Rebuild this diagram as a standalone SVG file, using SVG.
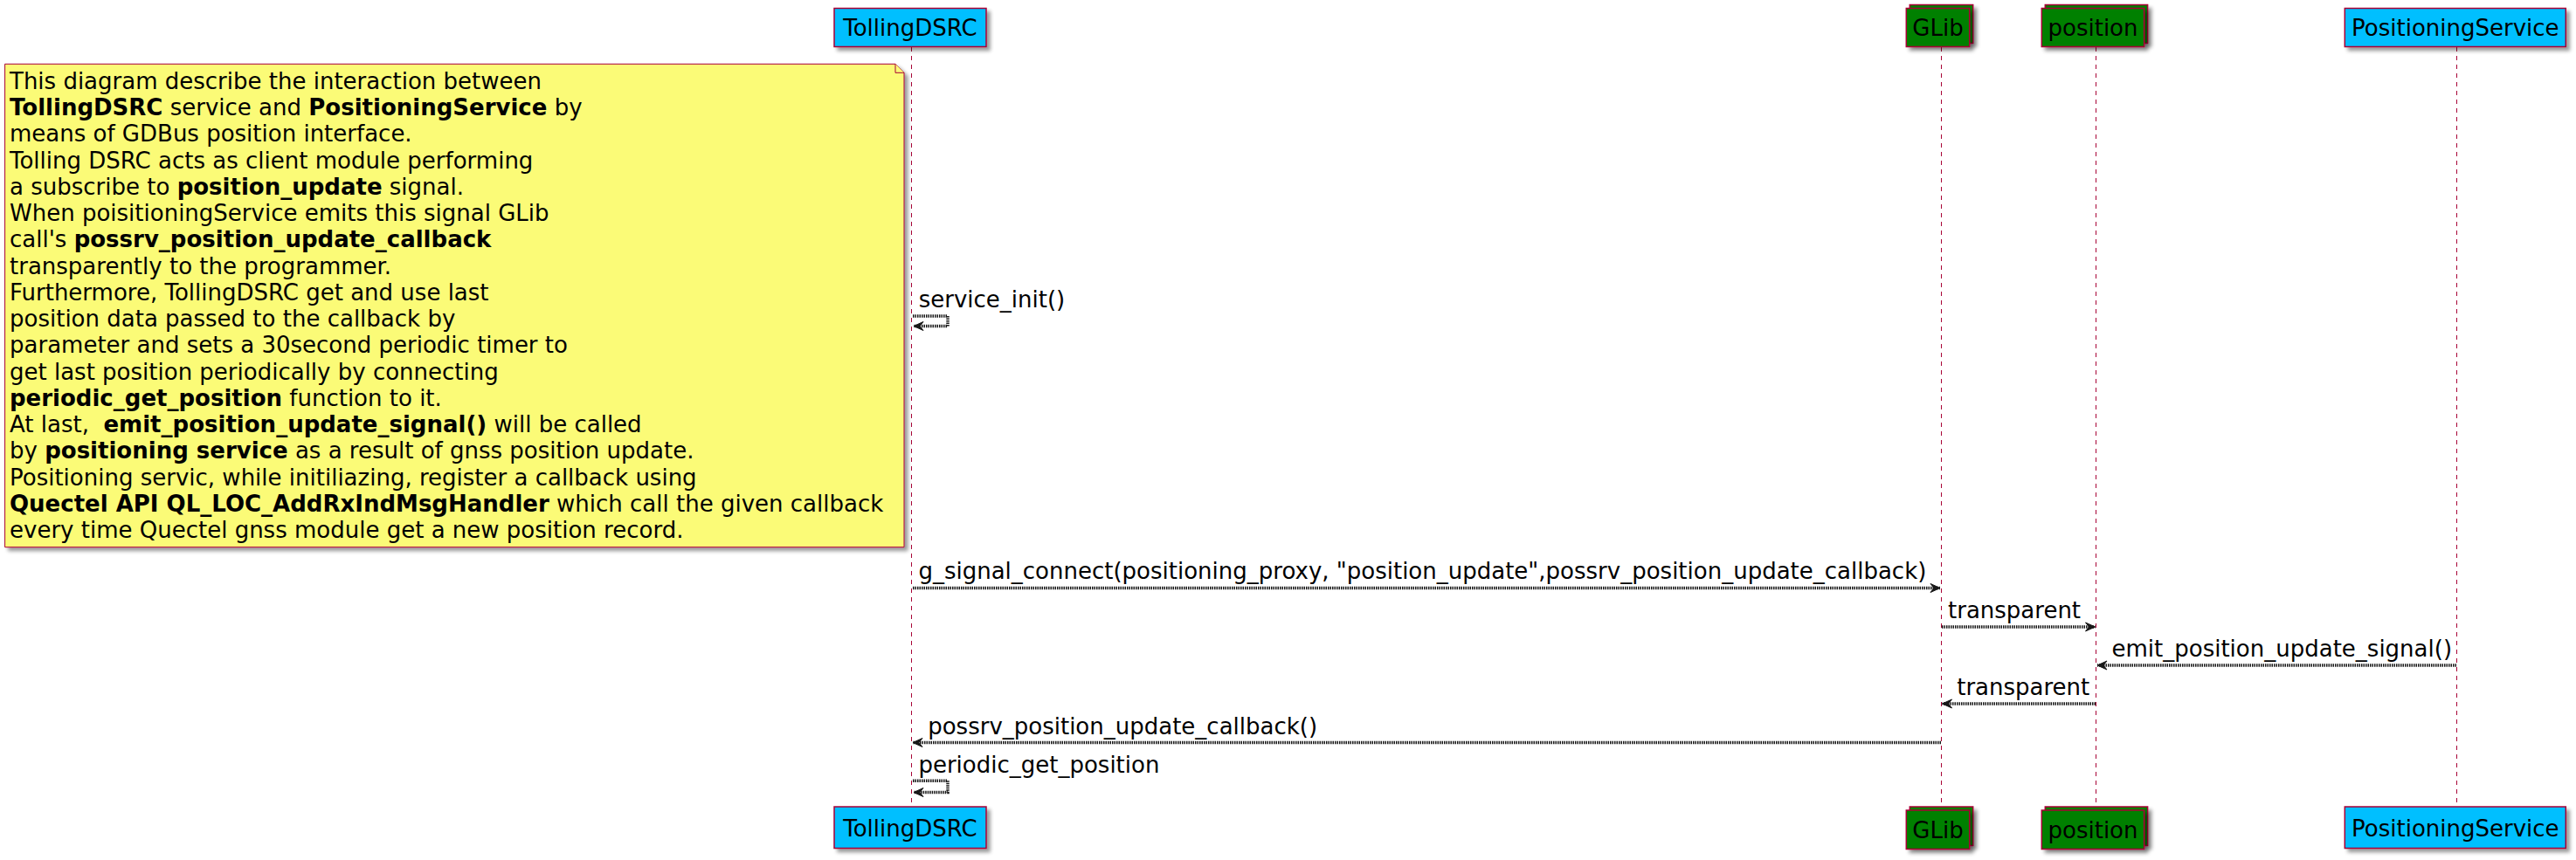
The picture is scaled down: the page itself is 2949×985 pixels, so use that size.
<svg xmlns="http://www.w3.org/2000/svg" width="2949" height="985" viewBox="0 0 2949 985">
<style>
text{font-family:"DejaVu Sans","Liberation Sans",sans-serif;font-size:26px;fill:#000}
.b{font-weight:bold}
.pc{text-anchor:middle}
.blue{fill:#00BFFF;stroke:#A80036;stroke-width:1.5}
.green{fill:#008000;stroke:#A80036;stroke-width:1.5}
.life{stroke:#A80036;stroke-width:1;stroke-dasharray:5,5;fill:none}
.msg{stroke:#181818;stroke-width:3.5;stroke-dasharray:1.5,1;fill:none}
.note{fill:#FBFB77;stroke:#A80036;stroke-width:1}
</style>
<defs>
<filter id="sh" x="-10%" y="-10%" width="130%" height="150%">
<feGaussianBlur in="SourceAlpha" stdDeviation="2" result="b"/>
<feOffset dx="4" dy="4" in="b" result="o"/>
<feComponentTransfer in="o" result="s"><feFuncA type="linear" slope="0.4"/></feComponentTransfer>
<feMerge><feMergeNode in="s"/><feMergeNode in="SourceGraphic"/></feMerge>
</filter>
<marker id="ah" viewBox="-12 -6 13 12" refX="0" refY="0" markerWidth="13" markerHeight="12" markerUnits="userSpaceOnUse" orient="auto">
<path d="M0,0 L-11,-5 L-7,0 L-11,5 Z" fill="#181818" stroke="#181818" stroke-width="1"/>
</marker>
</defs>
<rect width="2949" height="985" fill="#FFFFFF"/>

<g id="lifelines">
<line class="life" x1="1043.5" y1="54" x2="1043.5" y2="924"/>
<line class="life" x1="2222.5" y1="54" x2="2222.5" y2="924"/>
<line class="life" x1="2399.5" y1="54" x2="2399.5" y2="924"/>
<line class="life" x1="2812.5" y1="54" x2="2812.5" y2="924"/>
</g>

<g id="TollingDSRC">
<rect class="blue" x="955" y="9.5" width="174" height="44" filter="url(#sh)"/>
<text class="pc" x="1042" y="40.5">TollingDSRC</text>
<rect class="blue" x="955" y="924" width="174" height="47.5" filter="url(#sh)"/>
<text class="pc" x="1042" y="957.5">TollingDSRC</text>
</g>

<g id="GLib">
<rect class="green" x="2186.3" y="5.5" width="72.4" height="44" filter="url(#sh)"/>
<rect class="green" x="2182.3" y="9.5" width="72.4" height="44" filter="url(#sh)"/>
<text class="pc" x="2218.5" y="40.5">GLib</text>
<rect class="green" x="2186.3" y="924" width="72.4" height="44.5" filter="url(#sh)"/>
<rect class="green" x="2182.3" y="928" width="72.4" height="44.5" filter="url(#sh)"/>
<text class="pc" x="2218.5" y="960">GLib</text>
</g>

<g id="position">
<rect class="green" x="2341.3" y="5.5" width="117.3" height="44" filter="url(#sh)"/>
<rect class="green" x="2337.3" y="9.5" width="117.3" height="44" filter="url(#sh)"/>
<text class="pc" x="2396" y="40.5">position</text>
<rect class="green" x="2341.3" y="924" width="117.3" height="44.5" filter="url(#sh)"/>
<rect class="green" x="2337.3" y="928" width="117.3" height="44.5" filter="url(#sh)"/>
<text class="pc" x="2396" y="960">position</text>
</g>

<g id="PositioningService">
<rect class="blue" x="2684.3" y="9.5" width="253" height="44" filter="url(#sh)"/>
<text class="pc" x="2810.8" y="40.5">PositioningService</text>
<rect class="blue" x="2684.3" y="924" width="253" height="47.5" filter="url(#sh)"/>
<text class="pc" x="2810.8" y="957.5">PositioningService</text>
</g>

<g id="note">
<path class="note" d="M5.6,73.3 L1025,73.3 L1035,83.3 L1035,626.7 L5.6,626.7 Z" filter="url(#sh)"/>
<path class="note" d="M1025,73.3 L1025,83.3 L1035,83.3"/>
<text x="11" y="101.7" xml:space="preserve"><tspan x="11" y="101.7">This diagram describe the interaction between</tspan><tspan x="11" y="132"><tspan class="b">TollingDSRC</tspan> service and <tspan class="b">PositioningService</tspan> by</tspan><tspan x="11" y="162.2">means of GDBus position interface.</tspan><tspan x="11" y="192.5">Tolling DSRC acts as client module performing</tspan><tspan x="11" y="222.7">a subscribe to <tspan class="b">position_update</tspan> signal.</tspan><tspan x="11" y="253">When poisitioningService emits this signal GLib</tspan><tspan x="11" y="283.3">call's <tspan class="b">possrv_position_update_callback</tspan></tspan><tspan x="11" y="313.5">transparently to the programmer.</tspan><tspan x="11" y="343.8">Furthermore, TollingDSRC get and use last</tspan><tspan x="11" y="374">position data passed to the callback by</tspan><tspan x="11" y="404.3">parameter and sets a 30second periodic timer to</tspan><tspan x="11" y="434.6">get last position periodically by connecting</tspan><tspan x="11" y="464.8"><tspan class="b">periodic_get_position</tspan> function to it.</tspan><tspan x="11" y="495.1">At last,  <tspan class="b">emit_position_update_signal()</tspan> will be called</tspan><tspan x="11" y="525.3">by <tspan class="b">positioning service</tspan> as a result of gnss position update.</tspan><tspan x="11" y="555.6">Positioning servic, while initiliazing, register a callback using</tspan><tspan x="11" y="585.9"><tspan class="b">Quectel API QL_LOC_AddRxIndMsgHandler</tspan> which call the given callback</tspan><tspan x="11" y="616.1">every time Quectel gnss module get a new position record.</tspan></text>
</g>

<g id="connectors">
<path class="msg" d="M1045,362 H1085 V373.5 H1046" marker-end="url(#ah)"/>
<text x="1051.7" y="351.7">service_init()</text>
<line class="msg" x1="1045" y1="673.5" x2="2221" y2="673.5" marker-end="url(#ah)"/>
<text x="1051.4" y="663.3">g_signal_connect(positioning_proxy, "position_update",possrv_position_update_callback)</text>
<line class="msg" x1="2223" y1="718" x2="2398.5" y2="718" marker-end="url(#ah)"/>
<text x="2230" y="707.8">transparent</text>
<line class="msg" x1="2812" y1="762" x2="2401" y2="762" marker-end="url(#ah)"/>
<text x="2417.5" y="751.8">emit_position_update_signal()</text>
<line class="msg" x1="2399" y1="806" x2="2223.5" y2="806" marker-end="url(#ah)"/>
<text x="2240.2" y="796">transparent</text>
<line class="msg" x1="2222" y1="850.5" x2="1045" y2="850.5" marker-end="url(#ah)"/>
<text x="1062.2" y="840.5">possrv_position_update_callback()</text>
<path class="msg" d="M1045,894.3 H1085 V907.5 H1046" marker-end="url(#ah)"/>
<text x="1051.4" y="884.5">periodic_get_position</text>
</g>
</svg>
